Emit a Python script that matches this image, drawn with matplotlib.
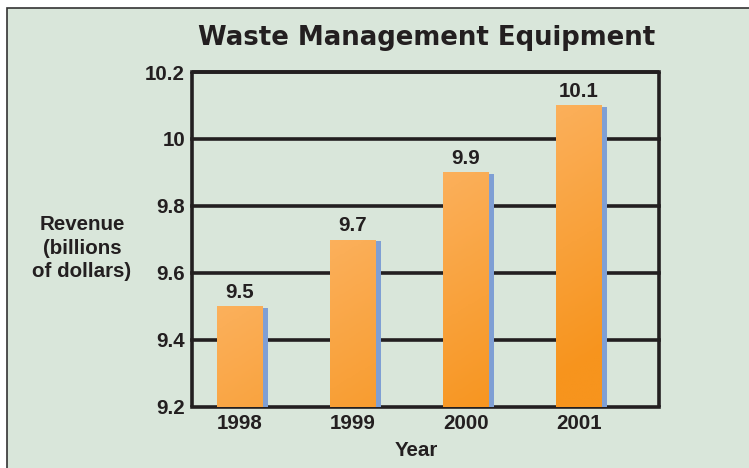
import numpy as np
import matplotlib
matplotlib.use("Agg")
from matplotlib import pyplot as plt
from matplotlib.patches import Rectangle
from matplotlib.colors import LinearSegmentedColormap

years = ["1998", "1999", "2000", "2001"]
revenue = [9.5, 9.7, 9.9, 10.1]
yticks = [9.2, 9.4, 9.6, 9.8, 10.0, 10.2]
ytick_labels = ["9.2", "9.4", "9.6", "9.8", "10", "10.2"]

bg = "#d9e6da"
ink = "#231f20"
fs = 14.8
plt.rcParams["font.family"] = ["Liberation Sans", "DejaVu Sans"]

fig = plt.figure(figsize=(7.49, 4.68), dpi=100)
fig.patch.set_facecolor("white")

# green panel with thin border, behind everything
bgax = fig.add_axes([0, 0, 1, 1], zorder=-10)
bgax.set_xlim(0, 749)
bgax.set_ylim(468, 0)
bgax.axis("off")
bgax.add_patch(Rectangle((7, 8), 760, 480, facecolor=bg,
                         edgecolor="#333333", linewidth=1.2))

ax = fig.add_axes([192 / 749, 61 / 468, 467 / 749, 335 / 468])
ax.set_facecolor(bg)
ax.set_xlim(-0.42, 3.71)
ax.set_ylim(9.2, 10.2)

x = np.arange(len(years))
w = 0.40
shadow = 0.053

# blue shadow strips
ax.bar(x + w / 2 + shadow / 2, [v - 0.003 - 9.2 for v in revenue], width=shadow,
       bottom=9.2, color="#7f9fd4", zorder=2)

# orange bars with diagonal gradient
cmap = LinearSegmentedColormap.from_list("org", ["#ffcb90", "#fbae57", "#f7941d"])
gx, gy = np.meshgrid(np.linspace(0, 1, 200), np.linspace(0, 1, 200))
grad = np.clip(0.55 * gx + 0.65 * gy - 0.03, 0, 1)
bars = ax.bar(x, [v - 9.2 for v in revenue], width=w, bottom=9.2,
              color="none", zorder=3)
for b in bars:
    im = ax.imshow(grad, cmap=cmap, extent=(-0.42, 3.71, 9.2, 10.2),
                   origin="upper", aspect="auto", zorder=3, vmin=0, vmax=1)
    im.set_clip_path(b)

for xi, v in zip(x, revenue):
    ax.text(xi, v + 0.024, f"{v:g}", ha="center", va="baseline",
            fontsize=fs, fontweight="bold", color=ink, zorder=4)

# grid lines
for t in yticks:
    ax.axhline(t, color=ink, linewidth=2.6, zorder=1, clip_on=False)

for s in ["left", "right", "top"]:
    ax.spines[s].set_linewidth(2.6)
    ax.spines[s].set_color(ink)
    ax.spines[s].set_capstyle("butt")
ax.spines["bottom"].set_visible(False)

ax.set_yticks(yticks)
ax.set_yticklabels(ytick_labels, fontsize=fs, fontweight="bold", color=ink)
ax.set_xticks(x)
ax.set_xticklabels(years, fontsize=fs, fontweight="bold", color=ink)
ax.tick_params(axis="both", length=0)
ax.tick_params(axis="y", pad=5)
ax.tick_params(axis="x", pad=5)

fig.text(416 / 749, 1 - 450 / 468, "Year", ha="center", va="center",
         fontsize=fs, fontweight="bold", color=ink)

fig.text(82 / 749, 1 - 248 / 468, "Revenue\n(billions\nof dollars)", ha="center",
         va="center", fontsize=fs, fontweight="bold", color=ink,
         linespacing=1.3)

fig.text(427 / 749, 1 - 38 / 468, "Waste Management Equipment", ha="center",
         va="center", fontsize=18.7, fontweight="bold", color=ink,
         family=["DejaVu Sans"])

fig.savefig("out.png", dpi=100, facecolor="white")
